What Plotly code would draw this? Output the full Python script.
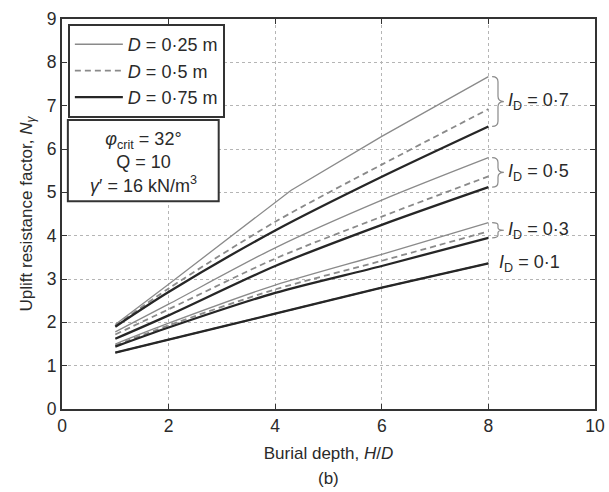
import plotly.graph_objects as go

# Burial depth H/D sampled along each curve
hd = [1, 2, 4, 6, 8]
hd_kinked = [1, 2, 4.3, 6, 8]   # I_D = 0.7, D = 0.25 m has a kink near H/D = 4.3

# Uplift resistance factor N_gamma, by relative density I_D and anchor size D
n_07_025 = [1.95, 2.88, 5.05, 6.29, 7.67]
n_07_050 = [1.92, 2.78, 4.32, 5.64, 6.92]
n_07_075 = [1.90, 2.70, 4.12, 5.36, 6.52]

n_05_025 = [1.78, 2.42, 3.72, 4.82, 5.80]
n_05_050 = [1.72, 2.30, 3.47, 4.44, 5.37]
n_05_075 = [1.62, 2.16, 3.30, 4.25, 5.12]

n_03_025 = [1.50, 1.98, 2.86, 3.57, 4.30]
n_03_050 = [1.47, 1.93, 2.76, 3.42, 4.10]
n_03_075 = [1.44, 1.88, 2.68, 3.30, 3.95]

n_01_025 = [1.30, 1.60, 2.20, 2.80, 3.36]
n_01_050 = [1.30, 1.60, 2.20, 2.80, 3.36]
n_01_075 = [1.30, 1.60, 2.20, 2.80, 3.36]

sizes = ["0·25", "0·5", "0·75"]
density_labels = ["0·7", "0·5", "0·3", "0·1"]
density_label_y = [7.09, 5.46, 4.13, 3.36]

groups = [
    ([hd_kinked, hd, hd], [n_07_025, n_07_050, n_07_075]),
    ([hd, hd, hd], [n_05_025, n_05_050, n_05_075]),
    ([hd, hd, hd], [n_03_025, n_03_050, n_03_075]),
    ([hd, hd, hd], [n_01_025, n_01_050, n_01_075]),
]

line_styles = [
    dict(color="#8a8a8a", width=1.3, dash="solid"),
    dict(color="#8a8a8a", width=1.8, dash="6px,4px"),
    dict(color="#262626", width=2.3, dash="solid"),
]

font_family = "Liberation Sans, Arial, sans-serif"
ink = "#2a2a2a"

fig = go.Figure()

# draw from the lowest family upward so thick lines sit on top
for gi, (xs, ys) in reversed(list(enumerate(groups))):
    for si in range(3):
        kinked = xs[si] is hd_kinked
        fig.add_trace(go.Scatter(
            x=xs[si], y=ys[si], mode="lines",
            line=dict(**line_styles[si],
                      shape="linear" if kinked else "spline",
                      smoothing=0.8),
            name=f"<i>D</i> = {sizes[si]} m",
            legendgroup=sizes[si],
            legendrank=si + 1,
            showlegend=(gi == 0),
            hoverinfo="skip",
        ))

# curly braces grouping the line ends of each I_D family
def brace_path(x0, y_top, y_bot, w):
    ym = (y_top + y_bot) / 2
    xh = x0 + w * 0.5
    r = min(0.12, (y_top - y_bot) / 6)
    return (
        f"M {x0},{y_top} Q {xh},{y_top} {xh},{y_top - r} "
        f"L {xh},{ym + r} Q {xh},{ym} {x0 + w},{ym} "
        f"Q {xh},{ym} {xh},{ym - r} "
        f"L {xh},{y_bot + r} Q {xh},{y_bot} {x0},{y_bot}"
    )

for gi in range(3):
    ends = [s[-1] for s in groups[gi][1]]
    fig.add_shape(
        type="path",
        path=brace_path(8.07, max(ends), min(ends), 0.22),
        xref="x", yref="y",
        line=dict(color="#8a8a8a", width=1.2),
    )

for gi, (lab, ly) in enumerate(zip(density_labels, density_label_y)):
    fig.add_annotation(
        x=8.33 if gi < 3 else 8.17, y=ly, xref="x", yref="y",
        text=f"<i>I</i><sub>D</sub> = {lab}",
        showarrow=False, xanchor="left", yanchor="middle",
        font=dict(size=18, color=ink, family=font_family),
    )

# box with the soil parameters
fig.add_shape(
    type="rect", xref="paper", yref="paper",
    x0=0.011, x1=0.294, y0=0.533, y1=0.741,
    line=dict(color="#333333", width=2), fillcolor="white", layer="above",
)
fig.add_annotation(
    x=0.152, y=0.633, xref="paper", yref="paper",
    text=("<i>φ</i><sub>crit</sub> = 32°<br>Q = 10<br>"
          "<i>γ</i>′ = 16 kN/m<sup>3</sup>"),
    showarrow=False, xanchor="center", yanchor="middle", align="center",
    font=dict(size=18, color=ink, family=font_family),
)

fig.add_annotation(
    x=0.5, y=-0.177, xref="paper", yref="paper",
    text="(b)", showarrow=False, yanchor="middle",
    font=dict(size=17, color=ink, family=font_family),
)

axis_common = dict(
    showline=True, linecolor="#333333", linewidth=2, mirror="ticks",
    ticks="inside", ticklen=5, tickcolor="#333333", tickwidth=1,
    showgrid=True, gridcolor="#b5b5b5", gridwidth=1, griddash="dot",
    zeroline=False, automargin=False,
    tickfont=dict(size=17.5, color=ink, family=font_family),
)

fig.update_xaxes(
    range=[0, 10], dtick=2, **axis_common,
    title=dict(text="Burial depth, <i>H</i>/<i>D</i>", standoff=12,
               font=dict(size=17, color=ink, family=font_family)),
)
fig.update_yaxes(
    range=[0, 9], dtick=1, **axis_common,
    title=dict(text="Uplift resistance factor, <i>N</i><sub><i>γ</i></sub>",
               standoff=10, font=dict(size=17, color=ink, family=font_family)),
)

fig.update_layout(
    width=609, height=492,
    margin=dict(l=62, r=14, t=19, b=83),
    plot_bgcolor="white", paper_bgcolor="white",
    font=dict(family=font_family, color=ink),
    showlegend=True,
    legend=dict(
        x=0.011, y=0.987, xanchor="left", yanchor="top",
        bgcolor="white", bordercolor="#333333", borderwidth=2,
        font=dict(size=18, color=ink, family=font_family),
        tracegroupgap=0, itemwidth=48,
    ),
)

fig.write_html("out.html")
